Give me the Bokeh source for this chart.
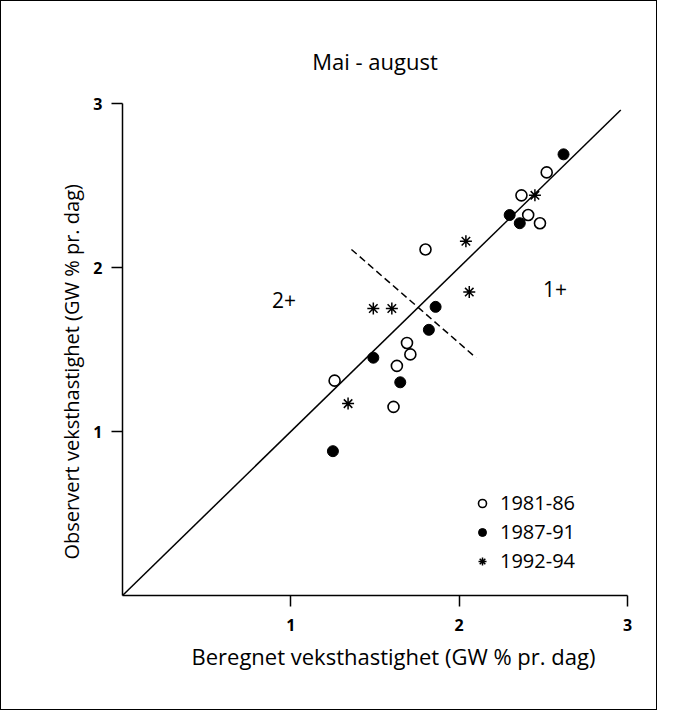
from bokeh.plotting import figure
from bokeh.models import FixedTicker, Legend, LegendItem, Range1d, Title
from bokeh.core.properties import value
from bokeh.embed import file_html
from bokeh.resources import INLINE

# ---- data ----
series_names = ["1981-86", "1987-91", "1992-94"]

open_x = [2.52, 2.37, 2.41, 2.48, 1.80, 1.69, 1.71, 1.63, 1.26, 1.61]
open_y = [2.58, 2.44, 2.32, 2.27, 2.11, 1.54, 1.47, 1.40, 1.31, 1.15]

filled_x = [2.62, 2.30, 2.36, 1.86, 1.82, 1.49, 1.65, 1.25]
filled_y = [2.69, 2.32, 2.27, 1.76, 1.62, 1.45, 1.30, 0.88]

star_x = [2.45, 2.04, 2.06, 1.49, 1.60, 1.34]
star_y = [2.44, 2.16, 1.85, 1.75, 1.75, 1.17]

line_x = [0.0, 2.96]
line_y = [0.0, 2.96]

split_x = [1.36, 2.10]
split_y = [2.11, 1.45]

region_labels = ["2+", "1+"]
region_x = [0.96, 2.57]
region_y = [1.80, 1.87]

ticks = [1, 2, 3]

x_title = "Beregnet veksthastighet (GW % pr. dag)"
y_title = "Observert veksthastighet (GW % pr. dag)"

FONT = "Open Sans"

p = figure(width=657, height=710, output_backend="svg", toolbar_location=None,
           x_range=Range1d(0, 3), y_range=Range1d(0, 3),
           min_border_left=121, min_border_right=31,
           min_border_top=102, min_border_bottom=116,
           title="Mai - august")
p.styles = {"border": "1px solid black"}

p.title.align = "center"
p.title.text_font = FONT
p.title.text_font_size = "22px"
p.title.text_font_style = "normal"
p.title.text_color = "black"
p.title.standoff = 55

p.outline_line_color = None
p.xgrid.visible = False
p.ygrid.visible = False

for ax in (p.xaxis[0], p.yaxis[0]):
    ax.ticker = FixedTicker(ticks=ticks)
    ax.minor_tick_line_color = None
    ax.major_tick_in = 0
    ax.major_tick_out = 11
    ax.axis_line_width = 1.5
    ax.axis_line_color = "black"
    ax.major_tick_line_width = 1.5
    ax.major_tick_line_color = "black"
    ax.major_label_text_font = FONT
    ax.major_label_text_font_style = "bold"
    ax.major_label_text_font_size = "16px"
    ax.major_label_text_color = "black"

p.xaxis.major_label_standoff = 12
p.yaxis.major_label_standoff = 9

# axis titles (shifted off the axis centre, as in the original)
xt = Title(text=x_title, align="left", offset=69, standoff=10,
           text_font=FONT, text_font_size="22px", text_font_style="normal",
           text_color="black")
yt = Title(text=y_title, align="left", offset=36, standoff=12,
           text_font=FONT, text_font_size="20px", text_font_style="normal",
           text_color="black")
p.add_layout(xt, "below")
p.add_layout(yt, "left")

p.line(line_x, line_y, line_color="black", line_width=1.5)
p.line(split_x, split_y, line_color="black", line_width=1.5, line_dash="7 4")

r_open = p.scatter(open_x, open_y, marker="circle", size=11,
                   fill_color="white", line_color="black", line_width=1.6)
r_fill = p.scatter(filled_x, filled_y, marker="circle", size=11,
                   fill_color="black", line_color="black", line_width=1)
r_star = p.scatter(star_x, star_y, marker="asterisk", size=12,
                   line_color="black", line_width=1.5)

p.text(region_x, region_y, text=region_labels, text_font=value(FONT),
       text_font_size="21px", text_align="center", text_baseline="middle",
       text_color="black")

legend = Legend(items=[LegendItem(label=series_names[0], renderers=[r_open]),
                       LegendItem(label=series_names[1], renderers=[r_fill]),
                       LegendItem(label=series_names[2], renderers=[r_star])],
                location=(350, 21), glyph_width=20, glyph_height=20,
                label_standoff=8, spacing=2, padding=0, margin=0,
                border_line_color=None, background_fill_alpha=0,
                label_text_font=FONT, label_text_font_size="20px",
                label_text_color="black")
p.add_layout(legend)

open("out.html", "w").write(file_html(p, INLINE))
